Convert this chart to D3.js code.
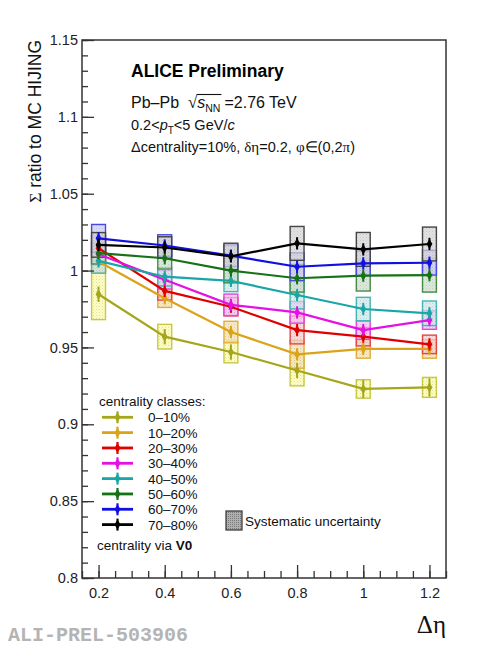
<!DOCTYPE html>
<html>
<head>
<meta charset="utf-8">
<script src="https://cdn.jsdelivr.net/npm/d3@7"></script>
<style>
  body { margin: 0; background: #fff; }
  svg { display: block; font-family: "Liberation Sans", Arial, sans-serif; }
  svg text { white-space: pre; }
  .tick text { font-size: 14.5px; fill: #222; }
  .tick line { stroke: #333; stroke-width: 1.3; }
</style>
</head>
<body>
<svg id="chart" width="482" height="650"></svg>
<script>
// data
var deta = [0.2, 0.4, 0.6, 0.8, 1.0, 1.2];
var centralityLabels = ['0–10%', '10–20%', '20–30%', '30–40%', '40–50%', '50–60%', '60–70%', '70–80%'];

var ratio0to10  = [0.9846, 0.957, 0.947, 0.935, 0.923, 0.924];
var ratio10to20 = [1.0059, 0.982, 0.960, 0.9455, 0.949, 0.949];
var ratio20to30 = [1.0145, 0.9868, 0.9765, 0.9613, 0.957, 0.952];
var ratio30to40 = [1.0106, 0.994, 0.9777, 0.9728, 0.9613, 0.9678];
var ratio40to50 = [1.0063, 0.996, 0.9933, 0.9841, 0.975, 0.9722];
var ratio50to60 = [1.0113, 1.008, 1.0, 0.995, 0.9967, 0.997];
var ratio60to70 = [1.021, 1.0163, 1.0097, 1.0025, 1.0047, 1.0051];
var ratio70to80 = [1.0167, 1.015, 1.0092, 1.0177, 1.0138, 1.0173];

var sys0to10  = [0.0165, 0.008, 0.007, 0.010, 0.006, 0.0065];
var sys10to20 = [0.007, 0.006, 0.007, 0.009, 0.006, 0.006];
var sys20to30 = [0.008, 0.006, 0.006, 0.009, 0.006, 0.006];
var sys30to40 = [0.007, 0.006, 0.007, 0.007, 0.006, 0.006];
var sys40to50 = [0.008, 0.006, 0.007, 0.009, 0.0076, 0.008];
var sys50to60 = [0.007, 0.007, 0.008, 0.009, 0.010, 0.011];
var sys60to70 = [0.009, 0.007, 0.007, 0.009, 0.008, 0.008];
var sys70to80 = [0.008, 0.007, 0.0086, 0.011, 0.011, 0.011];

var stat0to10  = [0.005, 0.005, 0.005, 0.005, 0.006, 0.006];
var statOthers = [0.004, 0.004, 0.004, 0.004, 0.004, 0.004];

var yTicks = [0.8, 0.85, 0.9, 0.95, 1.0, 1.05, 1.1, 1.15];
var xTicks = [0.2, 0.4, 0.6, 0.8, 1.0, 1.2];

var lineColors = ['#a6a61c', '#dba317', '#e00000', '#e410e4', '#1aa6a6', '#167216', '#1010e0', '#000000'];
var boxFills   = ['#ffffa8', '#f8e0ac', '#f9cccc', '#f9c2f9', '#cce9e9', '#cce0cc', '#ccccf4', '#d6d6d6'];
var boxStrokes = ['#c8c844', '#e2ad3c', '#e04848', '#e048e0', '#48b4b4', '#488a48', '#4848e6', '#444444'];

var ratios = [ratio0to10, ratio10to20, ratio20to30, ratio30to40, ratio40to50, ratio50to60, ratio60to70, ratio70to80];
var syss = [sys0to10, sys10to20, sys20to30, sys30to40, sys40to50, sys50to60, sys60to70, sys70to80];

var series = centralityLabels.map(function(label, i) {
    return {
        label: label,
        index: i,
        points: deta.map(function(x, j) {
            return { x: x, y: ratios[i][j], sys: syss[i][j], stat: i === 0 ? stat0to10[j] : statOthers[j] };
        })
    };
});

var frameLeft = 82, frameRight = 446, frameTop = 40, frameBottom = 578;
var boxHalfWidth = 0.021;

var svg = d3.select('#chart');
var x = d3.scaleLinear().domain([0.15, 1.25]).range([frameLeft, frameRight]);
var y = d3.scaleLinear().domain([0.8, 1.15]).range([frameBottom, frameTop]);
var fmt = function(d) { return String(+d.toFixed(2)); };

// dotted fill pattern used by ROOT-style systematic boxes
var defs = svg.append('defs');
var dots = defs.append('pattern')
    .attr('id', 'dots')
    .attr('width', 3)
    .attr('height', 3)
    .attr('patternUnits', 'userSpaceOnUse');
dots.append('rect').attr('width', 1).attr('height', 1).attr('fill', '#888').attr('opacity', 0.3);
dots.append('rect').attr('x', 1.5).attr('y', 1.5).attr('width', 1).attr('height', 1).attr('fill', '#888').attr('opacity', 0.2);

var darkDots = defs.append('pattern')
    .attr('id', 'darkDots')
    .attr('width', 2)
    .attr('height', 2)
    .attr('patternUnits', 'userSpaceOnUse');
darkDots.append('rect').attr('width', 1).attr('height', 1).attr('fill', '#555').attr('opacity', 0.6);

// systematic boxes
var boxLayer = svg.append('g');
series.forEach(function(s) {
    var g = boxLayer.append('g');
    var rects = g.selectAll('g')
        .data(s.points)
        .join('g');
    rects.append('rect')
        .attr('x', d => x(d.x - boxHalfWidth))
        .attr('y', d => y(d.y + d.sys))
        .attr('width', d => x(d.x + boxHalfWidth) - x(d.x - boxHalfWidth))
        .attr('height', d => y(d.y - d.sys) - y(d.y + d.sys))
        .attr('fill', boxFills[s.index])
        .attr('fill-opacity', 0.7);
    rects.append('rect')
        .attr('x', d => x(d.x - boxHalfWidth))
        .attr('y', d => y(d.y + d.sys))
        .attr('width', d => x(d.x + boxHalfWidth) - x(d.x - boxHalfWidth))
        .attr('height', d => y(d.y - d.sys) - y(d.y + d.sys))
        .attr('fill', 'url(#dots)')
        .attr('stroke', boxStrokes[s.index])
        .attr('stroke-width', 1.4);
});

// lines, stat errors, markers
var line = d3.line().x(d => x(d.x)).y(d => y(d.y));
var marker = d3.symbol().type(d3.symbolDiamond).size(30);

series.forEach(function(s) {
    var g = svg.append('g');
    g.append('path')
        .attr('d', line(s.points))
        .attr('fill', 'none')
        .attr('stroke', lineColors[s.index])
        .attr('stroke-width', 2.2);
    g.selectAll('.err')
        .data(s.points)
        .join('line')
        .attr('class', 'err')
        .attr('x1', d => x(d.x))
        .attr('x2', d => x(d.x))
        .attr('y1', d => y(d.y + d.stat))
        .attr('y2', d => y(d.y - d.stat))
        .attr('stroke', lineColors[s.index])
        .attr('stroke-width', 2);
    g.selectAll('.mk')
        .data(s.points)
        .join('path')
        .attr('class', 'mk')
        .attr('transform', d => 'translate(' + x(d.x) + ',' + y(d.y) + ')')
        .attr('d', marker)
        .attr('fill', lineColors[s.index]);
});

// axes
svg.append('g')
    .attr('transform', 'translate(' + frameLeft + ',0)')
    .call(d3.axisLeft(y).tickValues(d3.range(80, 116).map(v => v / 100)).tickSize(-6).tickFormat(''))
    .call(g => g.select('.domain').remove());
svg.append('g')
    .attr('transform', 'translate(' + frameLeft + ',0)')
    .call(d3.axisLeft(y).tickValues(yTicks).tickSize(-12).tickPadding(4).tickFormat(fmt))
    .call(g => g.select('.domain').remove());
svg.append('g')
    .attr('transform', 'translate(0,' + frameBottom + ')')
    .call(d3.axisBottom(x).tickValues(d3.range(3, 26).map(v => v * 0.05)).tickSize(-7).tickFormat(''))
    .call(g => g.select('.domain').remove());
svg.append('g')
    .attr('transform', 'translate(0,' + frameBottom + ')')
    .call(d3.axisBottom(x).tickValues(xTicks).tickSize(-13).tickPadding(10).tickFormat(fmt))
    .call(g => g.select('.domain').remove());

svg.append('rect')
    .attr('x', frameLeft)
    .attr('y', frameTop)
    .attr('width', frameRight - frameLeft)
    .attr('height', frameBottom - frameTop)
    .attr('fill', 'none')
    .attr('stroke', '#333')
    .attr('stroke-width', 1.5);

// axis titles
svg.append('text')
    .attr('transform', 'translate(41,' + frameTop + ') rotate(-90)')
    .attr('text-anchor', 'end')
    .attr('font-size', 17.5)
    .attr('fill', '#111')
    .call(t => t.append('tspan').attr('font-family', '"Liberation Serif", serif').text('Σ'))
    .call(t => t.append('tspan').text(' ratio to MC HIJING'));

svg.append('text')
    .attr('x', frameRight)
    .attr('y', 633)
    .attr('text-anchor', 'end')
    .attr('font-family', '"Liberation Serif", serif')
    .attr('font-size', 25)
    .attr('fill', '#111')
    .text('Δη');

// header texts
svg.append('text')
    .attr('x', 131).attr('y', 77)
    .attr('font-size', 17.5)
    .attr('font-weight', 'bold')
    .text('ALICE Preliminary');

function appendPieces(xStart, yBase, pieces) {
    var cx = xStart;
    pieces.forEach(function(p) {
        var t = svg.append('text')
            .attr('x', cx)
            .attr('y', yBase + (p.dy || 0))
            .attr('font-size', p.size)
            .attr('font-style', p.italic ? 'italic' : null)
            .attr('font-family', p.serif ? '"Liberation Serif", serif' : null)
            .attr('fill', '#111')
            .text(p.text);
        p.x0 = cx;
        cx += t.node().getComputedTextLength() + (p.gap || 0);
        p.x1 = cx;
    });
    return pieces;
}

var pbLine = appendPieces(131, 108, [
    { text: 'Pb–Pb  ', size: 16 },
    { text: '√', size: 17, serif: true },
    { text: 's', size: 16, italic: true },
    { text: 'NN', size: 10.5, dy: 3.5, gap: 4 },
    { text: '=2.76 TeV', size: 16 }
]);
svg.append('path')
    .attr('d', 'M' + (pbLine[1].x1 - 0.5) + ',' + 94.5 + 'H' + (pbLine[3].x1 - 3))
    .attr('stroke', '#111')
    .attr('stroke-width', 1.1);

appendPieces(131, 129.5, [
    { text: '0.2<', size: 14.5 },
    { text: 'p', size: 14.5, italic: true },
    { text: 'T', size: 10, dy: 4.5 },
    { text: '<5 GeV/', size: 14.5 },
    { text: 'c', size: 14.5, italic: true }
]);

appendPieces(131, 151.5, [
    { text: 'Δcentrality=10%, ', size: 14.5 },
    { text: 'δη', size: 15, serif: true },
    { text: '=0.2, ', size: 14.5 },
    { text: 'φ∈', size: 15, serif: true },
    { text: '(0,2', size: 14.5 },
    { text: 'π', size: 15, serif: true },
    { text: ')', size: 14.5 }
]);

// legend
var legend = svg.append('g');
legend.append('text')
    .attr('x', 99).attr('y', 406)
    .attr('font-size', 13.5)
    .attr('fill', '#111')
    .text('centrality classes:');

var rows = legend.selectAll('.row')
    .data(series)
    .join('g')
    .attr('class', 'row')
    .attr('transform', d => 'translate(0,' + (417.3 + d.index * 15.33) + ')');
rows.append('line')
    .attr('x1', 102).attr('x2', 133)
    .attr('stroke', d => lineColors[d.index])
    .attr('stroke-width', 2.8);
rows.append('line')
    .attr('x1', 117.5).attr('x2', 117.5)
    .attr('y1', -6).attr('y2', 6)
    .attr('stroke', d => lineColors[d.index])
    .attr('stroke-width', 2.2);
rows.append('path')
    .attr('transform', 'translate(117.5,0)')
    .attr('d', marker)
    .attr('fill', d => lineColors[d.index]);
rows.append('text')
    .attr('x', 148).attr('y', 5)
    .attr('font-size', 13.5)
    .attr('fill', '#111')
    .text(d => d.label);

legend.append('text')
    .attr('x', 97).attr('y', 550)
    .attr('font-size', 13.5)
    .attr('fill', '#111')
    .call(t => t.append('tspan').text('centrality via '))
    .call(t => t.append('tspan').attr('font-weight', 'bold').text('V0'));

legend.append('rect')
    .attr('x', 226).attr('y', 511).attr('width', 16).attr('height', 19)
    .attr('fill', '#b0b0b0');
legend.append('rect')
    .attr('x', 226).attr('y', 511).attr('width', 16).attr('height', 19)
    .attr('fill', 'url(#darkDots)')
    .attr('stroke', '#333')
    .attr('stroke-width', 1.2);
legend.append('text')
    .attr('x', 245).attr('y', 526)
    .attr('font-size', 13.5)
    .attr('fill', '#111')
    .text('Systematic uncertainty');

svg.append('text')
    .attr('x', 8).attr('y', 641)
    .attr('font-family', '"Liberation Mono", monospace')
    .attr('font-weight', 'bold')
    .attr('font-size', 20)
    .attr('fill', '#b4b4b4')
    .text('ALI-PREL-503906');
</script>
</body>
</html>
